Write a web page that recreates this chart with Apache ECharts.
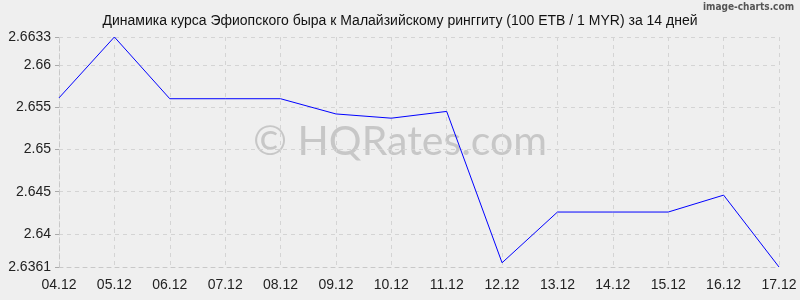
<!DOCTYPE html>
<html><head><meta charset="utf-8">
<script src="https://cdn.jsdelivr.net/npm/echarts@6/dist/echarts.min.js"></script>
<style>html,body{margin:0;padding:0;background:#efefef}#c{width:800px;height:300px}</style>
</head><body><div id="c"></div>
<script>
const categories = ['04.12','05.12','06.12','07.12','08.12','09.12','10.12','11.12','12.12','13.12','14.12','15.12','16.12','17.12'];
const rates = [2.6561, 2.6633, 2.6560, 2.6560, 2.6560, 2.6542, 2.6537, 2.6545, 2.6366, 2.6426, 2.6426, 2.6426, 2.6446, 2.6361];
const yTicks = [2.6361, 2.64, 2.645, 2.65, 2.655, 2.66, 2.6633];
const title = 'Динамика курса Эфиопского быра к Малайзийскому ринггиту (100 ETB / 1 MYR) за 14 дней';

const chart = echarts.init(document.getElementById('c'));
chart.setOption({
  backgroundColor: '#efefef',
  animation: false,
  title: {text: title, left: 'center', top: 9, textStyle: {fontFamily: 'Liberation Sans, Arial', fontSize: 14, fontWeight: 'normal', color: '#111'}},
  graphic: [
    {type: 'text', right: 6, top: 2, style: {text: 'image-charts.com', fontFamily: 'DejaVu Sans Condensed', fontSize: 10, fontWeight: 'bold', fill: '#555'}},
    {type: 'text', left: 'center', top: 121, z: 0, style: {text: '© HQRates.com', fontFamily: 'Lato', fontSize: 41, fill: 'rgba(150,150,150,0.45)'}}
  ],
  grid: {left: 59, right: 21, top: 37, bottom: 33},
  xAxis: {
    type: 'category', data: categories, boundaryGap: false,
    axisLine: {lineStyle: {color: '#c8c8c8', type: [4, 4]}},
    axisTick: {show: false},
    axisLabel: {fontFamily: 'Liberation Sans, Arial', fontSize: 14, color: '#222', margin: 11},
    splitLine: {show: true, lineStyle: {color: '#d4d4d4', type: [4, 4]}}
  },
  yAxis: {
    type: 'value', min: 2.6361, max: 2.6633,
    axisLine: {show: true, lineStyle: {color: '#c8c8c8', type: [4, 4]}},
    axisTick: {show: true, customValues: yTicks, length: 4, lineStyle: {color: '#aaa'}},
    axisLabel: {customValues: yTicks, fontFamily: 'Liberation Sans, Arial', fontSize: 14, color: '#222', margin: 8},
    splitLine: {show: true, lineStyle: {color: '#d4d4d4', type: [4, 4]}}
  },
  series: [{type: 'line', data: rates, showSymbol: false, lineStyle: {color: '#0000ff', width: 1}, itemStyle: {color: '#0000ff'}, z: 3}]
});
</script></body></html>
